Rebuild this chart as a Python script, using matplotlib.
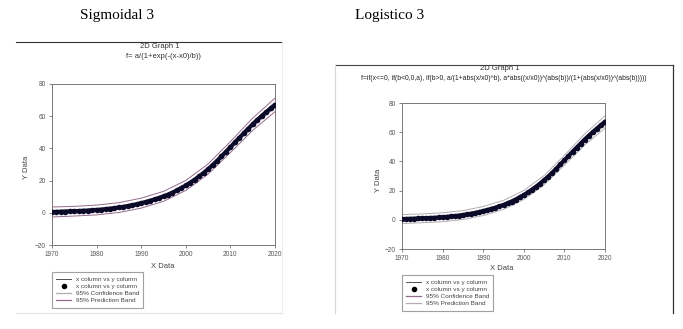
import matplotlib
matplotlib.use("Agg")
import matplotlib.pyplot as plt
from matplotlib.lines import Line2D

W, H = 683, 329

# data (both panels show the same data set)
years = list(range(1970, 2021))
y_obs = [0.5, 0.6, 0.7, 0.8, 0.9, 1.0, 1.1, 1.3, 1.4, 1.6,
         1.8, 2.0, 2.3, 2.6, 2.9, 3.3, 3.7, 4.2, 4.7, 5.3,
         6.0, 6.7, 7.5, 8.3, 9.2, 10.2, 11.3, 12.5, 13.9, 15.4,
         17.0, 18.7, 20.6, 22.6, 24.8, 27.1, 29.6, 32.2, 35.0, 37.9,
         40.8, 43.7, 46.6, 49.4, 52.2, 55.0, 57.6, 60.1, 62.5, 64.8,
         67.0]
band_years = [1970, 1975, 1980, 1985, 1990, 1995, 2000, 2005, 2010, 2015, 2020]
conf_hi = [1.4, 1.7, 2.4, 3.9, 6.7, 10.9, 17.7, 27.9, 41.7, 56.2, 68.8]
conf_lo = [-0.4, 0.3, 1.0, 2.5, 5.3, 9.5, 16.3, 26.3, 39.9, 53.8, 65.2]
pred_hi = [3.6, 4.0, 4.8, 6.3, 9.1, 13.3, 20.1, 30.3, 44.2, 58.8, 71.2]
pred_lo = [-2.6, -2.0, -1.3, 0.2, 2.9, 7.1, 13.9, 24.0, 37.4, 51.2, 62.8]

xticks = [1970, 1980, 1990, 2000, 2010, 2020]
yticks = [-20, 0, 20, 40, 60, 80]

fig = plt.figure(figsize=(W / 100, H / 100), dpi=100)
fig.patch.set_facecolor("white")


def fx(px):
    return px / W


def fy(py):
    return 1 - py / H


def box(x0, y0, x1, y1):
    return [fx(x0), fy(y1), fx(x1) - fx(x0), fy(y0) - fy(y1)]


sans = "Liberation Sans"
serif = "Liberation Serif"
col_conf_l = "#b4acb4"
col_pred_l = "#946a8c"


def panel(rect, conf_col, pred_col):
    ax = fig.add_axes(rect)
    # dense points + fit line merge into one thick dark stroke
    ax.plot(years, y_obs, color="#0c0c2c", lw=3.0, solid_capstyle="round", zorder=3)
    ax.plot(years, y_obs, "o", color="#0a0a28", ms=4.0, mew=0, zorder=4)
    ax.plot(band_years, conf_hi, color=conf_col, lw=0.7, zorder=2)
    ax.plot(band_years, conf_lo, color=conf_col, lw=0.7, zorder=2)
    ax.plot(band_years, pred_hi, color=pred_col, lw=0.7, zorder=2)
    ax.plot(band_years, pred_lo, color=pred_col, lw=0.7, zorder=2)
    ax.set_xlim(1970, 2020)
    ax.set_ylim(-20, 80)
    ax.set_xticks(xticks)
    ax.set_yticks(yticks)
    ax.tick_params(labelsize=4.7, length=2.5, width=0.5, direction="out",
                   colors="#555555", pad=2)
    for t in ax.get_xticklabels() + ax.get_yticklabels():
        t.set_family(sans)
    for s in ax.spines.values():
        s.set_color("#777777")
        s.set_linewidth(0.7)
    return ax


# ---------- left panel: Sigmoidal 3 ----------
fig.text(fx(80), fy(16), "Sigmoidal 3", family=serif, fontsize=11,
         ha="left", va="center", color="black")
fig.add_artist(Line2D([fx(16), fx(282)], [fy(42), fy(42)], color="#333333", lw=0.8))
fig.add_artist(Line2D([fx(16), fx(282)], [fy(313), fy(313)], color="#e4e4e4", lw=0.8))
fig.add_artist(Line2D([fx(282), fx(282)], [fy(42), fy(313)], color="#eeeeee", lw=0.8))
fig.text(fx(160), fy(46), "2D Graph 1", family=sans, fontsize=5.5,
         ha="center", va="center", color="#333333")
fig.text(fx(163), fy(57), "f= a/(1+exp(-(x-x0)/b))", family=sans, fontsize=5.5,
         ha="center", va="center", color="#333333")
panel(box(52, 84, 275, 245), col_conf_l, col_pred_l)
fig.text(fx(163), fy(266), "X Data", family=sans, fontsize=5.5,
         ha="center", va="center", color="#444444")
fig.text(fx(27), fy(167), "Y Data", family=sans, fontsize=5.5, rotation=90,
         ha="center", va="center", color="#444444")

# ---------- right panel: Logistico 3 ----------
fig.text(fx(355), fy(16), "Logistico 3", family=serif, fontsize=11,
         ha="left", va="center", color="black")
fig.add_artist(Line2D([fx(335), fx(673)], [fy(65), fy(65)], color="#444444", lw=0.8))
fig.add_artist(Line2D([fx(673), fx(673)], [fy(65), fy(313)], color="#333333", lw=0.9))
fig.add_artist(Line2D([fx(335), fx(335)], [fy(65), fy(313)], color="#d8d8d8", lw=0.8))
fig.text(fx(500), fy(68), "2D Graph 1", family=sans, fontsize=5.5,
         ha="center", va="center", color="#333333")
fig.text(fx(504), fy(79),
         "f=if(x<=0, if(b<0,0,a), if(b>0, a/(1+abs(x/x0)^b), "
         "a*abs((x/x0))^(abs(b))/(1+(abs(x/x0))^(abs(b)))))",
         family=sans, fontsize=4.9, ha="center", va="center", color="#222222")
panel(box(402, 103, 605, 249), col_pred_l, col_conf_l)
fig.text(fx(502), fy(269), "X Data", family=sans, fontsize=5.5,
         ha="center", va="center", color="#444444")
fig.text(fx(379), fy(180), "Y Data", family=sans, fontsize=5.5, rotation=90,
         ha="center", va="center", color="#444444")


def legend(x0, y0, conf_col, pred_col):
    handles = [
        Line2D([], [], color="#333333", lw=0.6),
        Line2D([], [], color="black", marker="o", ms=3, lw=0),
        Line2D([], [], color=conf_col, lw=0.9),
        Line2D([], [], color=pred_col, lw=0.9),
    ]
    labels = ["x column vs y column", "x column vs y column",
              "95% Confidence Band", "95% Prediction Band"]
    leg = fig.legend(handles, labels, loc="upper left",
                     bbox_to_anchor=(fx(x0), fy(y0)),
                     prop={"family": sans, "size": 4.6},
                     frameon=True, fancybox=False, handlelength=2.2,
                     handletextpad=0.8, labelspacing=0.25, borderpad=0.7,
                     borderaxespad=0)
    leg.get_frame().set_edgecolor("#888888")
    leg.get_frame().set_linewidth(0.8)
    for t in leg.get_texts():
        t.set_color("#444444")


legend(52, 272, col_conf_l, col_pred_l)
legend(402, 275, col_pred_l, col_conf_l)

fig.savefig("out.png", dpi=100, facecolor="white")
